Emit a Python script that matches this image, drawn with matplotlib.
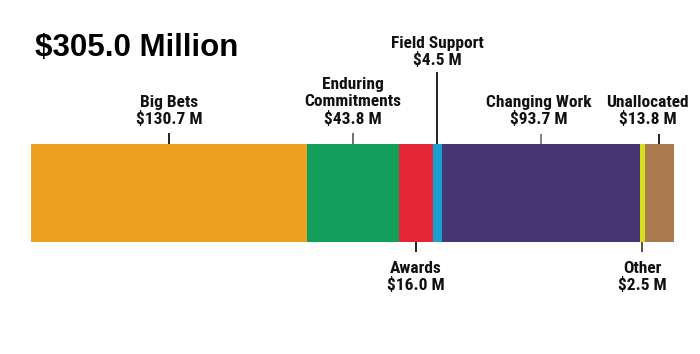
import matplotlib
matplotlib.use("Agg")
import matplotlib.pyplot as plt
from matplotlib import font_manager as fm
import numpy as np

categories = ["Big Bets", "Enduring\nCommitments", "Awards", "Field Support",
              "Changing Work", "Other", "Unallocated"]
values = [130.7, 43.8, 16.0, 4.5, 93.7, 2.5, 13.8]
value_labels = ["$130.7 M", "$43.8 M", "$16.0 M", "$4.5 M", "$93.7 M", "$2.5 M", "$13.8 M"]
colors = ["#EEA020", "#149E5C", "#E42535", "#1AA0CE", "#463573", "#D6DE1E", "#AA7A4E"]
title = "$305.0 Million"

names = {f.name for f in fm.fontManager.ttflist}
narrow = None
for cand in ["Liberation Sans Narrow", "Roboto Condensed", "Open Sans Condensed", "Roboto"]:
    if cand in names:
        narrow = cand
        break
if narrow is None:
    narrow = "DejaVu Sans"

W, H = 700, 354
fig = plt.figure(figsize=(W / 100, H / 100), dpi=100)
x0, x1 = 31, 674
ax = fig.add_axes([x0 / W, 0, (x1 - x0) / W, 1])
total = sum(values)
ax.set_xlim(0, total)
ax.set_ylim(H, 0)
ax.axis("off")

lefts = np.concatenate([[0], np.cumsum(values)[:-1]])
bar_top, bar_bot = 144, 242
ax.barh([(bar_top + bar_bot) / 2] * len(values), values, left=lefts,
        height=bar_bot - bar_top, color=colors, edgecolor="none")

px = total / (x1 - x0)  # data units per pixel
# side, text x-offset (px), text block center y (px), tick end y (px), tick colour
layout = {
    "Big Bets": ("above", 0, 111, 133, "#111111"),
    "Enduring\nCommitments": ("above", 0, 102, 133, "#666666"),
    "Awards": ("below", 0, 277, 252, "#111111"),
    "Field Support": ("above", 0, 52, 72, "#111111"),
    "Changing Work": ("above", -2, 111, 134, "#777777"),
    "Other": ("below", 0, 277, 252, "#444444"),
    "Unallocated": ("above", -12, 111, 134, "#111111"),
}
fs = 12.5
for cat, v, lab, l in zip(categories, values, value_labels, lefts):
    side, dx, ty, tick_end, tc = layout[cat]
    xc = l + v / 2
    if side == "above":
        ax.plot([xc, xc], [tick_end, bar_top], color=tc, lw=1.3, solid_capstyle="butt")
    else:
        ax.plot([xc, xc], [bar_bot, tick_end], color=tc, lw=1.3, solid_capstyle="butt")
    ax.text(xc + dx * px, ty, cat + "\n" + lab, ha="center", va="center", fontsize=fs,
            fontweight="bold", family=[narrow, "DejaVu Sans"], linespacing=1.12,
            color="#111111", clip_on=False)

fig.text(35 / W, 1 - 48 / H, title, ha="left", va="center", fontsize=22.5,
         fontweight="bold", family=["Liberation Sans", "DejaVu Sans"], color="#000000")

fig.savefig("out.png", dpi=100, facecolor="white")
